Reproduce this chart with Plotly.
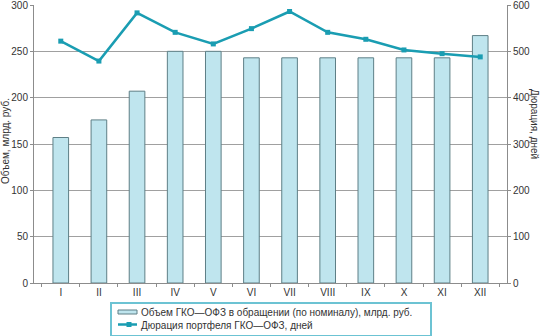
import plotly.graph_objects as go

months = ["I", "II", "III", "IV", "V", "VI", "VII", "VIII", "IX", "X", "XI", "XII"]
volume_bn_rub = [157, 176, 207, 250, 250, 243, 243, 243, 243, 243, 243, 267]
duration_days = [522, 479, 583, 541, 516, 549, 586, 541, 526, 503, 495, 488]

bar_name = "Объем ГКО\u2014ОФЗ в обращении (по номиналу), млрд. руб."
line_name = "Дюрация портфеля ГКО\u2014ОФЗ, дней"

W, H = 541, 336
ML, MR, MT, MB = 34, 34, 5, 53
PW, PH = W - ML - MR, H - MT - MB

axis_grey = "#8c8c8c"
text_col = "#333333"
teal = "#1a9db2"
bar_fill = "#bfe5ee"
bar_edge = "#5e7f86"


def px(x):
    """Page pixel x -> paper x."""
    return (x - ML) / PW


def py(y):
    """Page pixel y -> paper y."""
    return (H - MB - y) / PH


fig = go.Figure()
fig.add_trace(go.Bar(
    x=months, y=volume_bn_rub, name=bar_name,
    marker=dict(color=bar_fill, line=dict(color=bar_edge, width=1)),
    width=0.41,
))
fig.add_trace(go.Scatter(
    x=months, y=duration_days, name=line_name, yaxis="y2",
    mode="lines+markers",
    line=dict(color=teal, width=2.5),
    marker=dict(color=teal, size=5, symbol="square"),
))

# Legend box below the plot, drawn as shapes + text
legend_shapes = [
    dict(type="rect", xref="paper", yref="paper",
         x0=px(111), x1=px(431), y0=py(303), y1=py(336),
         line=dict(color="#6cc3d3", width=2), fillcolor="white", layer="above"),
    dict(type="rect", xref="paper", yref="paper",
         x0=px(118), x1=px(137), y0=py(310), y1=py(314),
         line=dict(color=bar_edge, width=1), fillcolor=bar_fill, layer="above"),
    dict(type="line", xref="paper", yref="paper",
         x0=px(118), x1=px(137), y0=py(324.5), y1=py(324.5),
         line=dict(color=teal, width=2.5), layer="above"),
    dict(type="rect", xref="paper", yref="paper",
         x0=px(126.5), x1=px(131.5), y0=py(322), y1=py(327),
         line=dict(color=teal, width=0), fillcolor=teal, layer="above"),
]
legend_texts = [
    dict(text=bar_name, xref="paper", yref="paper", x=px(139), y=py(312),
         xanchor="left", yanchor="middle", showarrow=False,
         font=dict(size=10, color=text_col)),
    dict(text=line_name, xref="paper", yref="paper", x=px(139), y=py(325),
         xanchor="left", yanchor="middle", showarrow=False,
         font=dict(size=10, color=text_col)),
]
axis_titles = [
    dict(text="Объем, млрд. руб.", textangle=-90, xref="paper", yref="paper",
         x=px(5), y=py(141), xanchor="center", yanchor="middle",
         showarrow=False, font=dict(size=10, color=text_col)),
    dict(text="Дюрация, дней", textangle=90, xref="paper", yref="paper",
         x=px(535), y=py(124), xanchor="center", yanchor="middle",
         showarrow=False, font=dict(size=10, color=text_col)),
]

fig.update_layout(
    width=W, height=H,
    margin=dict(l=ML, r=MR, t=MT, b=MB, autoexpand=False),
    paper_bgcolor="white", plot_bgcolor="white",
    font=dict(family="Liberation Sans, Arial, sans-serif", size=10, color=text_col),
    showlegend=False,
    xaxis=dict(
        type="category", showline=True, linecolor=axis_grey, linewidth=1,
        ticks="outside", tickson="boundaries", ticklen=3, tickcolor=axis_grey,
        showgrid=False, tickfont=dict(size=10),
    ),
    yaxis=dict(
        range=[0, 300], dtick=50, showgrid=True, gridcolor="#a0a0a0", gridwidth=1,
        showline=True, linecolor=axis_grey, ticks="outside", ticklen=3,
        tickcolor=axis_grey, zeroline=False, tickfont=dict(size=10),
        ticklabeloverflow="allow",
    ),
    yaxis2=dict(
        range=[0, 600], dtick=100, overlaying="y", side="right", showgrid=False,
        showline=True, linecolor=axis_grey, ticks="outside", ticklen=3,
        tickcolor=axis_grey, zeroline=False, tickfont=dict(size=10),
        ticklabeloverflow="allow",
    ),
    shapes=legend_shapes,
    annotations=legend_texts + axis_titles,
    bargap=0.59,
)

fig.write_html("out.html")
